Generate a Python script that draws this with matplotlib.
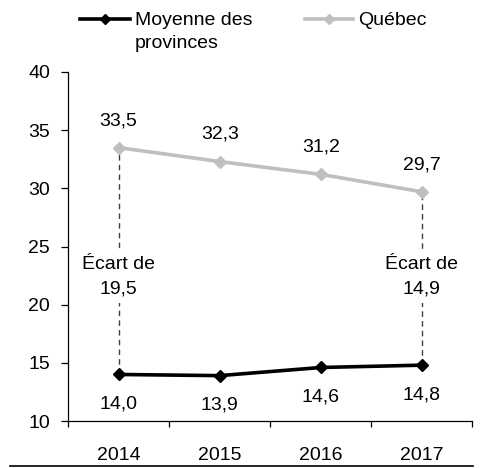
import matplotlib
matplotlib.use("Agg")
import matplotlib.pyplot as plt
from matplotlib.lines import Line2D

plt.rcParams['font.family'] = ['Liberation Sans', 'DejaVu Sans']

# données
annees = ['2014', '2015', '2016', '2017']
moyenne = [14.0, 13.9, 14.6, 14.8]
quebec = [33.5, 32.3, 31.2, 29.7]
noms = ['Moyenne des\nprovinces', 'Québec']
couleurs = ['#000000', '#BFBFBF']
y_ticks = [10, 15, 20, 25, 30, 35, 40]

fs = 14


def virgule(v):
    return f"{v:.1f}".replace('.', ',')


fig = plt.figure(figsize=(4.89, 4.68), dpi=100)
ax = fig.add_axes([68 / 489, 47 / 468, (472.5 - 68) / 489, (421 - 72) / 468])

x = list(range(len(annees)))

ax.plot(x, quebec, color=couleurs[1], lw=2.6, marker='D', ms=6, zorder=3)
ax.plot(x, moyenne, color=couleurs[0], lw=2.6, marker='D', ms=6, zorder=3)

# étiquettes des valeurs
for i in x:
    ax.annotate(virgule(quebec[i]), (i, quebec[i]), xytext=(0, 19.5),
                textcoords='offset points', ha='center', va='center', fontsize=fs)
    ax.annotate(virgule(moyenne[i]), (i, moyenne[i]), xytext=(0, -21.5),
                textcoords='offset points', ha='center', va='center', fontsize=fs)

# écarts en début et en fin de période
for i in [0, len(x) - 1]:
    ax.vlines(i, moyenne[i], quebec[i], colors='#404040', linestyles=(0, (4, 3)),
              lw=1, zorder=1)
    ax.text(i, 22.4, 'Écart de\n' + virgule(quebec[i] - moyenne[i]), ha='center',
            va='center', fontsize=fs, linespacing=1.55, zorder=2,
            bbox=dict(facecolor='white', edgecolor='none', pad=4))

ax.set_xlim(-0.5, len(x) - 0.5)
ax.set_ylim(y_ticks[0], y_ticks[-1])
ax.set_yticks(y_ticks)
ax.set_xticks(x)
ax.set_xticklabels(annees)
ax.set_xticks([i - 0.5 for i in range(len(x) + 1)], minor=True)
ax.tick_params(axis='x', which='major', length=0, pad=19, labelsize=fs)
ax.tick_params(axis='x', which='minor', length=4.5, width=0.9, direction='out')
ax.tick_params(axis='y', length=5, width=0.9, pad=8, labelsize=fs)

for s in ['top', 'right']:
    ax.spines[s].set_visible(False)
for s in ['left', 'bottom']:
    ax.spines[s].set_linewidth(0.9)

# légende
W, H = 489, 468
leg = [(80, 130, 135), (305, 353, 358)]
for (x0, x1, xt), nom, c in zip(leg, noms, couleurs):
    y = 1 - 19 / H
    fig.add_artist(Line2D([x0 / W, x1 / W], [y, y], color=c, lw=2.6))
    fig.add_artist(Line2D([(x0 + x1) / 2 / W], [y], color=c, marker='D', ms=5))
    fig.text(xt / W, 1 - 12 / H, nom, ha='left', va='top', fontsize=fs,
             linespacing=1.45)

# trait en bas de la figure
fig.add_artist(Line2D([10 / W, 473 / W], [1 - 466 / H] * 2, color='black', lw=1.2))

fig.savefig('out.png', dpi=100)
